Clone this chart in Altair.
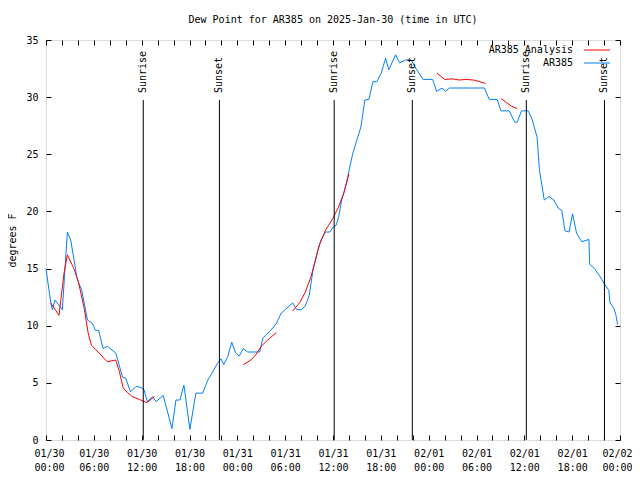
import altair as alt
import pandas as pd

# ---------------- data ----------------
obs_hours = [0.0, 0.6, 0.8, 1.13, 2.05, 2.68, 3.1, 3.7, 3.9, 4.48, 5.2, 5.8, 6.2, 6.6,
             7.16, 7.7, 8.76, 9.6, 10.0, 10.6, 11.3, 11.9, 12.3, 12.7, 13.4, 13.8, 14.7,
             15.8, 16.3, 16.8, 17.3, 18.05, 18.8, 19.65, 20.3, 20.7, 21.5, 21.95, 22.3,
             22.8, 23.3, 23.8, 24.25, 24.75, 25.3, 26.8, 27.2, 27.6, 28.2, 28.9, 29.5,
             30.0, 30.95, 31.45, 32.0, 32.5, 33.0, 33.5, 34.1, 34.5, 35.05, 35.6, 36.1,
             36.4, 36.7, 37.1, 37.7, 38.1, 38.5, 39.0, 39.5, 40.0, 40.5, 41.0, 41.5,
             42.05, 42.6, 43.0, 43.85, 44.35, 45.1, 45.8, 46.5, 47.3, 48.5, 49.0, 49.7,
             50.1, 50.6, 55.0, 55.6, 56.6, 57.05, 58.1, 58.8, 59.1, 59.65, 60.5, 61.0,
             61.6, 61.9, 62.5, 63.1, 63.7, 64.25, 64.7, 65.1, 65.6, 66.05, 66.55, 67.2,
             68.1, 68.2, 68.9, 69.5, 70.0, 70.6, 70.75, 71.25, 71.5, 71.7]
obs_dewpt = [15.0, 12.0, 11.4, 12.25, 11.4, 18.2, 17.5, 15.0, 14.1, 13.1, 10.5, 10.2, 9.6, 9.6,
             8.0, 8.2, 7.6, 5.5, 5.4, 4.2, 4.7, 4.6, 4.4, 3.35, 3.8, 3.35, 3.9,
             1.0, 3.5, 3.5, 4.8, 0.93, 4.1, 4.1, 5.25, 5.7, 6.7, 7.1, 6.6,
             7.3, 8.55, 7.6, 7.35, 8.0, 7.7, 7.7, 8.9, 9.2, 9.6, 10.2, 11.1,
             11.4, 12.0, 11.4, 11.4, 11.7, 12.6, 14.9, 16.6, 17.5, 18.2, 18.2, 18.7,
             18.8, 19.5, 21.0, 22.5, 23.9, 25.1, 26.25, 27.4, 29.75, 29.8, 31.35, 31.35,
             32.1, 33.4, 32.4, 33.7, 33.0, 33.25, 33.25, 32.4, 31.55, 31.55, 30.5, 30.8,
             30.5, 30.8, 30.8, 29.8, 29.8, 28.8, 28.8, 27.8, 27.8, 28.8, 28.8, 28.0,
             26.5, 23.6, 21.0, 21.3, 21.0, 20.3, 20.1, 18.3, 18.2, 19.8, 18.1, 17.35,
             17.55, 15.4, 14.9, 14.3, 13.7, 13.1, 12.0, 11.5, 10.9, 10.1]

ana_seg1_hours = [0.6, 1.63, 2.26, 2.68, 3.5, 4.06, 4.8, 5.3, 5.7, 7.7, 8.75, 9.2, 9.7, 10.8, 11.7, 12.65, 13.6]
ana_seg1_dewpt = [12.0, 10.9, 14.6, 16.2, 15.0, 13.85, 11.5, 9.3, 8.3, 6.85, 7.0, 6.0, 4.5, 3.8, 3.55, 3.27, 3.8]
ana_seg2_hours = [24.75, 25.7, 26.25, 27.0, 27.8, 28.9]
ana_seg2_dewpt = [6.6, 7.0, 7.4, 8.2, 8.75, 9.4]
ana_seg3_hours = [30.95, 31.8, 32.5, 33.2, 33.7, 34.3, 35.1, 36.0, 36.7, 37.4, 38.0]
ana_seg3_dewpt = [11.3, 12.0, 12.9, 14.2, 15.5, 17.1, 18.4, 19.4, 20.4, 21.7, 23.3]
ana_seg4_hours = [49.05, 50.0, 51.0, 51.8, 52.7, 53.6, 54.4, 55.1]
ana_seg4_dewpt = [32.1, 31.55, 31.6, 31.5, 31.55, 31.5, 31.35, 31.2]
ana_seg5_hours = [57.05, 57.8, 58.4, 59.1]
ana_seg5_dewpt = [29.9, 29.5, 29.2, 29.0]

sun_hours = [12.2, 21.75, 36.15, 45.95, 60.25, 70.05]
sun_labels = ["Sunrise", "Sunset", "Sunrise", "Sunset", "Sunrise", "Sunset"]

x_tick_dates = ["01/30", "01/30", "01/30", "01/30", "01/31", "01/31", "01/31",
                "01/31", "02/01", "02/01", "02/01", "02/01", "02/02"]
x_tick_times = ["00:00", "06:00", "12:00", "18:00", "00:00", "06:00", "12:00",
                "18:00", "00:00", "06:00", "12:00", "18:00", "00:00"]
x_minor_step = 2
y_ticks = [0, 5, 10, 15, 20, 25, 30, 35]

legend_labels = ["AR385 Analysis", "AR385"]
series_colors = ["#ff0000", "#0080ff"]

title_text = "Dew Point for AR385 on 2025-Jan-30 (time in UTC)"
y_title = "degrees F"

# ---------------- tables ----------------
FONT = "DejaVu Sans Mono"
obs_df = pd.DataFrame({"h": obs_hours, "v": obs_dewpt})
segs = [(ana_seg1_hours, ana_seg1_dewpt), (ana_seg2_hours, ana_seg2_dewpt),
        (ana_seg3_hours, ana_seg3_dewpt), (ana_seg4_hours, ana_seg4_dewpt),
        (ana_seg5_hours, ana_seg5_dewpt)]
ana_df = pd.concat([pd.DataFrame({"h": h, "v": v, "seg": i}) for i, (h, v) in enumerate(segs)])
sun_df = pd.DataFrame({"h": sun_hours, "label": sun_labels})

dates_js = "[" + ",".join(f"'{d}'" for d in x_tick_dates) + "]"
times_js = "[" + ",".join(f"'{t}'" for t in x_tick_times) + "]"
label_expr = (f"datum.value % 6 == 0 ? [{dates_js}[round(datum.value/6)], "
              f"{times_js}[round(datum.value/6)]] : ''")
x_vals = list(range(0, 73, x_minor_step))

xscale = alt.Scale(domain=[0, 72], nice=False, zero=False)
yscale = alt.Scale(domain=[0, 35], nice=False)

common_axis = dict(domain=False, grid=False, tickColor="black", tickSize=5,
                   labelFont=FONT, labelFontSize=10, labelColor="black",
                   titleFont=FONT, titleFontSize=10, titleColor="black",
                   titleFontWeight="normal", offset=-5)

x_bottom = alt.X("h:Q", scale=xscale, title=None,
                 axis=alt.Axis(orient="bottom", values=x_vals, labelExpr=label_expr,
                               labelPadding=8, labelLineHeight=14, labelFlush=True,
                               labelFlushOffset=12, labelOverlap=False, **common_axis))
y_left = alt.Y("v:Q", scale=yscale, title=y_title,
               axis=alt.Axis(orient="left", values=y_ticks, labelPadding=8,
                             titlePadding=8, **common_axis))

obs_line = alt.Chart(obs_df).mark_line(color=series_colors[1], strokeWidth=1).encode(
    x=x_bottom, y=y_left)

mirror = alt.Chart(obs_df).mark_line(opacity=0).encode(
    x=alt.X("h:Q", scale=xscale, title=None,
            axis=alt.Axis(orient="top", values=x_vals, labels=False, **common_axis)),
    y=alt.Y("v:Q", scale=yscale, title=None,
            axis=alt.Axis(orient="right", values=y_ticks, labels=False, **common_axis)))

ana_line = alt.Chart(ana_df).mark_line(color=series_colors[0], strokeWidth=1).encode(
    x=alt.X("h:Q", scale=xscale, axis=None),
    y=alt.Y("v:Q", scale=yscale, axis=None),
    detail="seg:N")

sun_rules = alt.Chart(sun_df).mark_rule(color="black", strokeWidth=1).encode(
    x=alt.X("h:Q", scale=xscale, axis=None),
    y=alt.value(60), y2=alt.value(400))

sun_text = alt.Chart(sun_df).mark_text(
    angle=270, align="left", baseline="middle", font=FONT, fontSize=10, color="black"
).encode(x=alt.X("h:Q", scale=xscale, axis=None), y=alt.value(53), text="label:N")

leg_layers = []
for i, (lab, col) in enumerate(zip(legend_labels, series_colors)):
    ly = 10 + 13 * i
    leg_df = pd.DataFrame({"label": [lab]})
    leg_layers.append(alt.Chart(leg_df).mark_text(
        align="right", baseline="middle", font=FONT, fontSize=10, color="black"
    ).encode(x=alt.value(527), y=alt.value(ly), text="label:N"))
    leg_layers.append(alt.Chart(leg_df).mark_rule(color=col, strokeWidth=1).encode(
        x=alt.value(538), x2=alt.value(564), y=alt.value(ly)))

chart = alt.layer(obs_line, mirror, ana_line, sun_rules, sun_text, *leg_layers).resolve_axis(
    x="independent", y="independent"
).properties(
    width=574, height=400, autosize="none",
    padding={"left": 38, "top": 32, "right": 12, "bottom": 36},
    title=alt.Title(title_text, font=FONT, fontSize=10, fontWeight="normal",
                    color="black", anchor="middle", offset=10),
).configure_view(stroke="black", strokeWidth=1).configure(background="white")

chart.save("out.html", embed_options={"renderer": "svg", "actions": False})
